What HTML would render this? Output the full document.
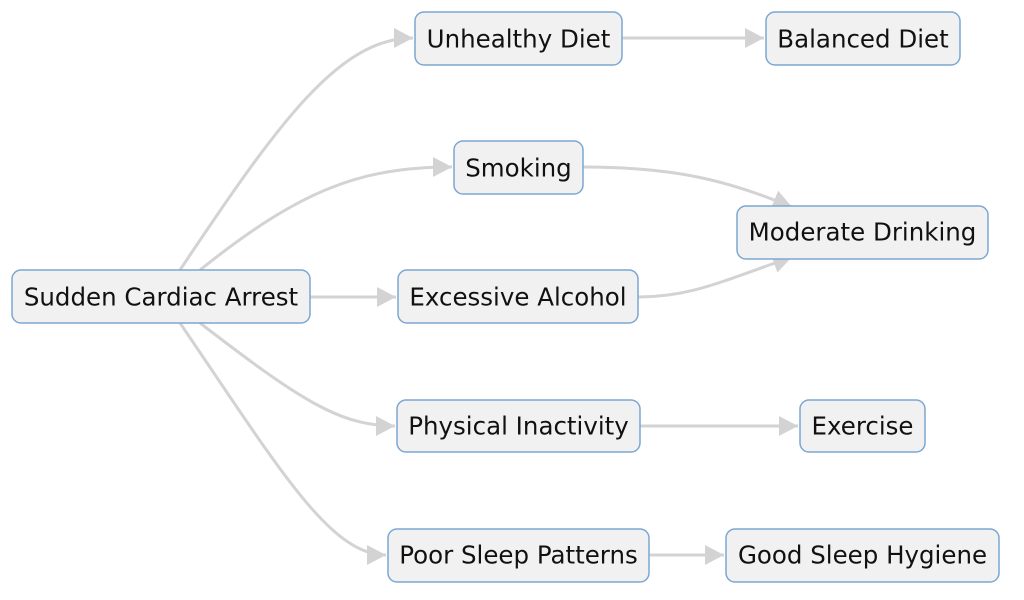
<!DOCTYPE html>
<html><head><meta charset="utf-8"><style>
html,body{margin:0;padding:0;background:#fff;}
svg{display:block;}
text{font-family:"DejaVu Sans","Liberation Sans",sans-serif;font-size:24.5px;fill:#111;}
</style></head><body>
<svg width="1024" height="600" viewBox="0 0 1024 600">
<defs>
<marker id="a" markerUnits="userSpaceOnUse" markerWidth="22" markerHeight="22" refX="19" refY="10" orient="auto">
<path d="M0,0 L19,10 L0,20 Z" fill="#d3d3d3"/>
</marker>
</defs>
<g fill="none" stroke="#d3d3d3" stroke-width="3" marker-end="url(#a)">
<path d="M180,270 C280,120 340,38 413,38"/>
<path d="M200,270 C300,190 360,167 452,167"/>
<path d="M310,297 L396,297"/>
<path d="M200,323 C300,400 340,426 395,426"/>
<path d="M180,323 C280,470 330,555 386,555"/>
<path d="M622,38 L764,38"/>
<path d="M583,167 C680,167 730,182 792,207"/>
<path d="M638,297 C690,297 720,282 792,257"/>
<path d="M640,426 L798,426"/>
<path d="M649,555 L724,555"/>
</g>
<g fill="#f1f1f1" stroke="#7ba7d3" stroke-width="1.5">
<rect x="12" y="270" width="298" height="53" rx="9"/>
<rect x="415" y="12" width="207" height="53" rx="9"/>
<rect x="766" y="12" width="194" height="53" rx="9"/>
<rect x="454" y="141" width="129" height="53" rx="9"/>
<rect x="737" y="206" width="251" height="53" rx="9"/>
<rect x="398" y="270" width="240" height="53" rx="9"/>
<rect x="397" y="400" width="243" height="52" rx="9"/>
<rect x="800" y="400" width="125" height="52" rx="9"/>
<rect x="388" y="529" width="261" height="53" rx="9"/>
<rect x="726" y="529" width="273" height="53" rx="9"/>
</g>
<g text-anchor="middle">
<text x="161" y="305.5">Sudden Cardiac Arrest</text>
<text x="518.5" y="47.5">Unhealthy Diet</text>
<text x="863" y="47.5">Balanced Diet</text>
<text x="518.5" y="176.5">Smoking</text>
<text x="862.5" y="240.5">Moderate Drinking</text>
<text x="518" y="305.5">Excessive Alcohol</text>
<text x="518.5" y="434.5">Physical Inactivity</text>
<text x="862.5" y="434.5">Exercise</text>
<text x="518.5" y="563.5">Poor Sleep Patterns</text>
<text x="862.5" y="563.5">Good Sleep Hygiene</text>
</g>
</svg>
</body></html>
